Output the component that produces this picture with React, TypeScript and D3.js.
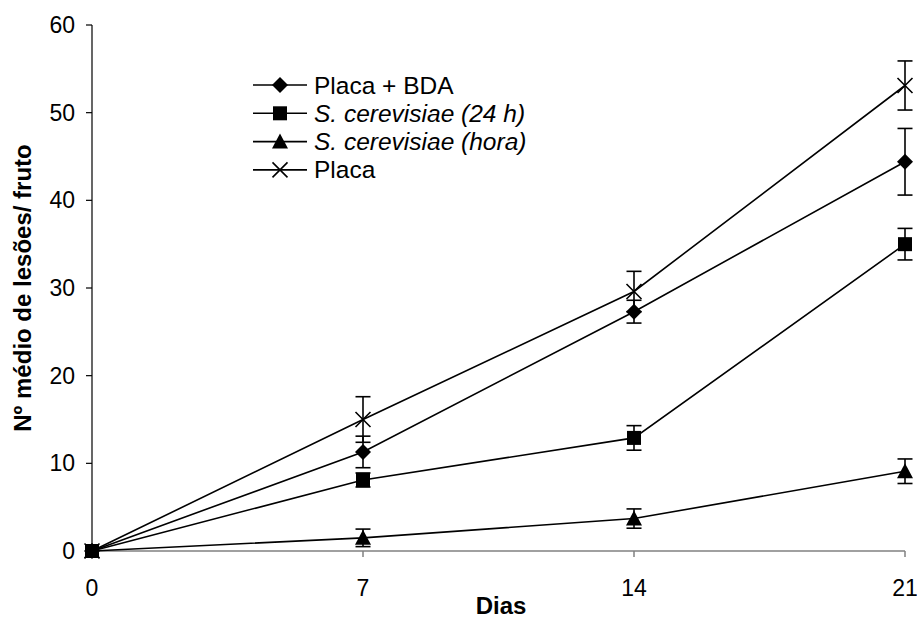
import React from "react";
import * as d3 from "d3";

const days = [0, 7, 14, 21];
const xTicks = [0, 7, 14, 21];
const yTicks = [0, 10, 20, 30, 40, 50, 60];

const seriesNames = ["Placa + BDA", "S. cerevisiae (24 h)", "S. cerevisiae (hora)", "Placa"];
const seriesItalic = [false, true, true, false];
const seriesMarkers = ["diamond", "square", "triangle", "x"];

const placaBDA = [0, 11.3, 27.3, 44.4];
const placaBDAErr = [0, 1.8, 1.3, 3.8];
const cerev24 = [0, 8.1, 12.9, 35.0];
const cerev24Err = [0, 0.8, 1.4, 1.8];
const cerevHora = [0, 1.5, 3.7, 9.1];
const cerevHoraErr = [0, 1.0, 1.1, 1.4];
const placa = [0, 15.0, 29.6, 53.1];
const placaErr = [0, 2.6, 2.3, 2.8];

const values = [placaBDA, cerev24, cerevHora, placa];
const errors = [placaBDAErr, cerev24Err, cerevHoraErr, placaErr];

const W = 917;
const H = 619;
const left = 92;
const right = 905;
const top = 25;
const bottom = 551;

function Marker({ type, cx, cy }: { type: string; cx: number; cy: number }) {
  if (type === "diamond") {
    const r = 8;
    return <path d={`M${cx},${cy - r}L${cx + r},${cy}L${cx},${cy + r}L${cx - r},${cy}Z`} fill="#000" />;
  }
  if (type === "square") {
    const s = 14;
    return <rect x={cx - s / 2} y={cy - s / 2} width={s} height={s} fill="#000" />;
  }
  if (type === "triangle") {
    const r = 8;
    return <path d={`M${cx},${cy - r}L${cx + r},${cy + 7}L${cx - r},${cy + 7}Z`} fill="#000" />;
  }
  const r = 7.5;
  return (
    <path
      d={`M${cx - r},${cy - r}L${cx + r},${cy + r}M${cx - r},${cy + r}L${cx + r},${cy - r}`}
      stroke="#000"
      strokeWidth={1.6}
      fill="none"
    />
  );
}

export default function App() {
  const x = d3.scaleLinear().domain([0, 21]).range([left, right]);
  const y = d3.scaleLinear().domain([0, 60]).range([bottom, top]);
  const line = d3
    .line<number>()
    .x((_, i) => x(days[i]))
    .y((d) => y(d));

  const font = "Arial, 'Liberation Sans', sans-serif";
  const legendX = 253;
  const legendY0 = 85;
  const legendDy = 28.3;

  return (
    <svg width={W} height={H} style={{ position: "absolute", left: 0, top: 0 }} fontFamily={font}>
      <rect width={W} height={H} fill="#fff" />
      {/* x axis */}
      <line x1={left} x2={right} y1={bottom} y2={bottom} stroke="#808080" strokeWidth={1.5} />
      {xTicks.map((t) => (
        <g key={"xt" + t}>
          <line x1={x(t)} x2={x(t)} y1={bottom} y2={bottom + 6} stroke="#808080" strokeWidth={1.5} />
          <text x={x(t)} y={596} textAnchor="middle" fontSize={23} fill="#000">
            {t}
          </text>
        </g>
      ))}
      {/* y axis */}
      <line x1={left} x2={left} y1={top} y2={bottom} stroke="#000" strokeWidth={1.2} />
      {yTicks.map((t) => (
        <g key={"yt" + t}>
          <line x1={left - 6} x2={left} y1={y(t)} y2={y(t)} stroke="#000" strokeWidth={1.2} />
          <text x={75} y={y(t) + 8} textAnchor="end" fontSize={23} fill="#000">
            {t}
          </text>
        </g>
      ))}
      <text x={501} y={614} textAnchor="middle" fontSize={24} fontWeight="bold">
        Dias
      </text>
      <text
        transform={`translate(31,${(top + bottom) / 2}) rotate(-90)`}
        textAnchor="middle"
        fontSize={24}
        fontWeight="bold"
      >
        Nº médio de lesões/ fruto
      </text>
      {/* series */}
      {values.map((vals, si) => (
        <g key={"s" + si}>
          <path d={line(vals) || ""} fill="none" stroke="#000" strokeWidth={1.6} />
          {vals.map((v, i) => {
            const e = errors[si][i];
            if (e <= 0) return null;
            return (
              <g key={"e" + i} stroke="#000" strokeWidth={1.6}>
                <line x1={x(days[i])} x2={x(days[i])} y1={y(v - e)} y2={y(v + e)} />
                <line x1={x(days[i]) - 7.5} x2={x(days[i]) + 7.5} y1={y(v - e)} y2={y(v - e)} />
                <line x1={x(days[i]) - 7.5} x2={x(days[i]) + 7.5} y1={y(v + e)} y2={y(v + e)} />
              </g>
            );
          })}
          {vals.map((v, i) => (
            <Marker key={"m" + i} type={seriesMarkers[si]} cx={x(days[i])} cy={y(v)} />
          ))}
        </g>
      ))}
      {/* legend */}
      {seriesNames.map((name, i) => {
        const ly = legendY0 + i * legendDy;
        return (
          <g key={"l" + i}>
            <line x1={legendX} x2={legendX + 54} y1={ly} y2={ly} stroke="#000" strokeWidth={1.6} />
            <Marker type={seriesMarkers[i]} cx={legendX + 27} cy={ly} />
            <text x={legendX + 61} y={ly + 8.5} fontSize={24.5} fontStyle={seriesItalic[i] ? "italic" : "normal"}>
              {name}
            </text>
          </g>
        );
      })}
    </svg>
  );
}
